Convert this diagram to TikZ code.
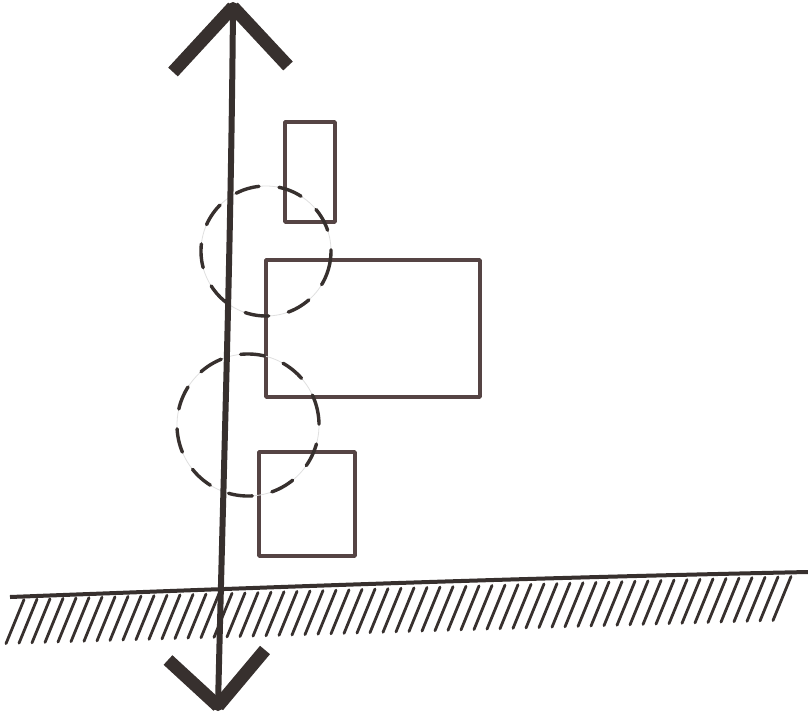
\documentclass[tikz,border=0pt]{standalone}
\begin{document}
\begin{tikzpicture}[x=1pt,y=-1pt,
  ink/.style={draw=inkc,line cap=round,line join=round},
  shaftline/.style={ink,line width=6pt},
  wing/.style={ink,line width=13pt,line cap=butt},
  boxline/.style={draw=boxc,line width=3.6pt,line join=round},
  dashcirc/.style={draw=inkc,line width=3.4pt,dash pattern=on 24pt off 20pt,line cap=round},
  faintcirc/.style={draw=black!12,line width=0.8pt},
  hatch/.style={draw=inkc,line width=2.8pt,line cap=round},
  groundline/.style={draw=inkc,line width=4pt}]
\definecolor{inkc}{RGB}{55,48,46}
\definecolor{boxc}{RGB}{85,68,68}
\useasboundingbox (0,0) rectangle (808,715);
\fill[white] (0,0) rectangle (808,715);
% hatching below ground
\foreach \i in {0,...,59}{
  \pgfmathsetmacro{\xt}{24+13*\i}
  \pgfmathsetmacro{\yt}{600-0.030075*(\xt-10)}
  \draw[hatch] (\xt,\yt) -- ({\xt-18},{\yt+44});
}
% ground
\coordinate (gl) at (10,597);
\coordinate (gr) at (808,572);
\draw[groundline] (gl) .. controls (300,586) and (520,578) .. (gr);
% rectangles
\coordinate (r1a) at (285,122); \coordinate (r1b) at (335,222);
\coordinate (r2a) at (266,260); \coordinate (r2b) at (480,397);
\coordinate (r3a) at (259,452); \coordinate (r3b) at (355,556);
\draw[boxline] (r1a) rectangle (r1b);
\draw[boxline] (r2a) rectangle (r2b);
\draw[boxline] (r3a) rectangle (r3b);
% circles
\coordinate (c1) at (266,251);
\coordinate (c2) at (248,425);
\draw[faintcirc] (c1) circle [radius=65];
\draw[faintcirc] (c2) circle [radius=71];
\draw[dashcirc] (c1) ++(10:65) arc [start angle=10,end angle=370,radius=65];
\draw[dashcirc] (c2) ++(-20:71) arc [start angle=-20,end angle=340,radius=71];
% double arrow
\coordinate (top) at (233,7);
\coordinate (bot) at (218,706);
\coordinate (tl) at (173,72);
\coordinate (tr) at (288,66);
\coordinate (bl) at (168,660);
\coordinate (br) at (265,650);
\draw[shaftline] (top) .. controls (231,250) and (224,450) .. (bot);
\draw[wing] (top) -- (tl);
\draw[wing] (top) -- (tr);
\draw[wing] (bot) -- (bl);
\draw[wing] (bot) -- (br);
\fill[inkc] (top) circle [radius=5];
\fill[inkc] (bot) circle [radius=5];
\end{tikzpicture}
\end{document}
